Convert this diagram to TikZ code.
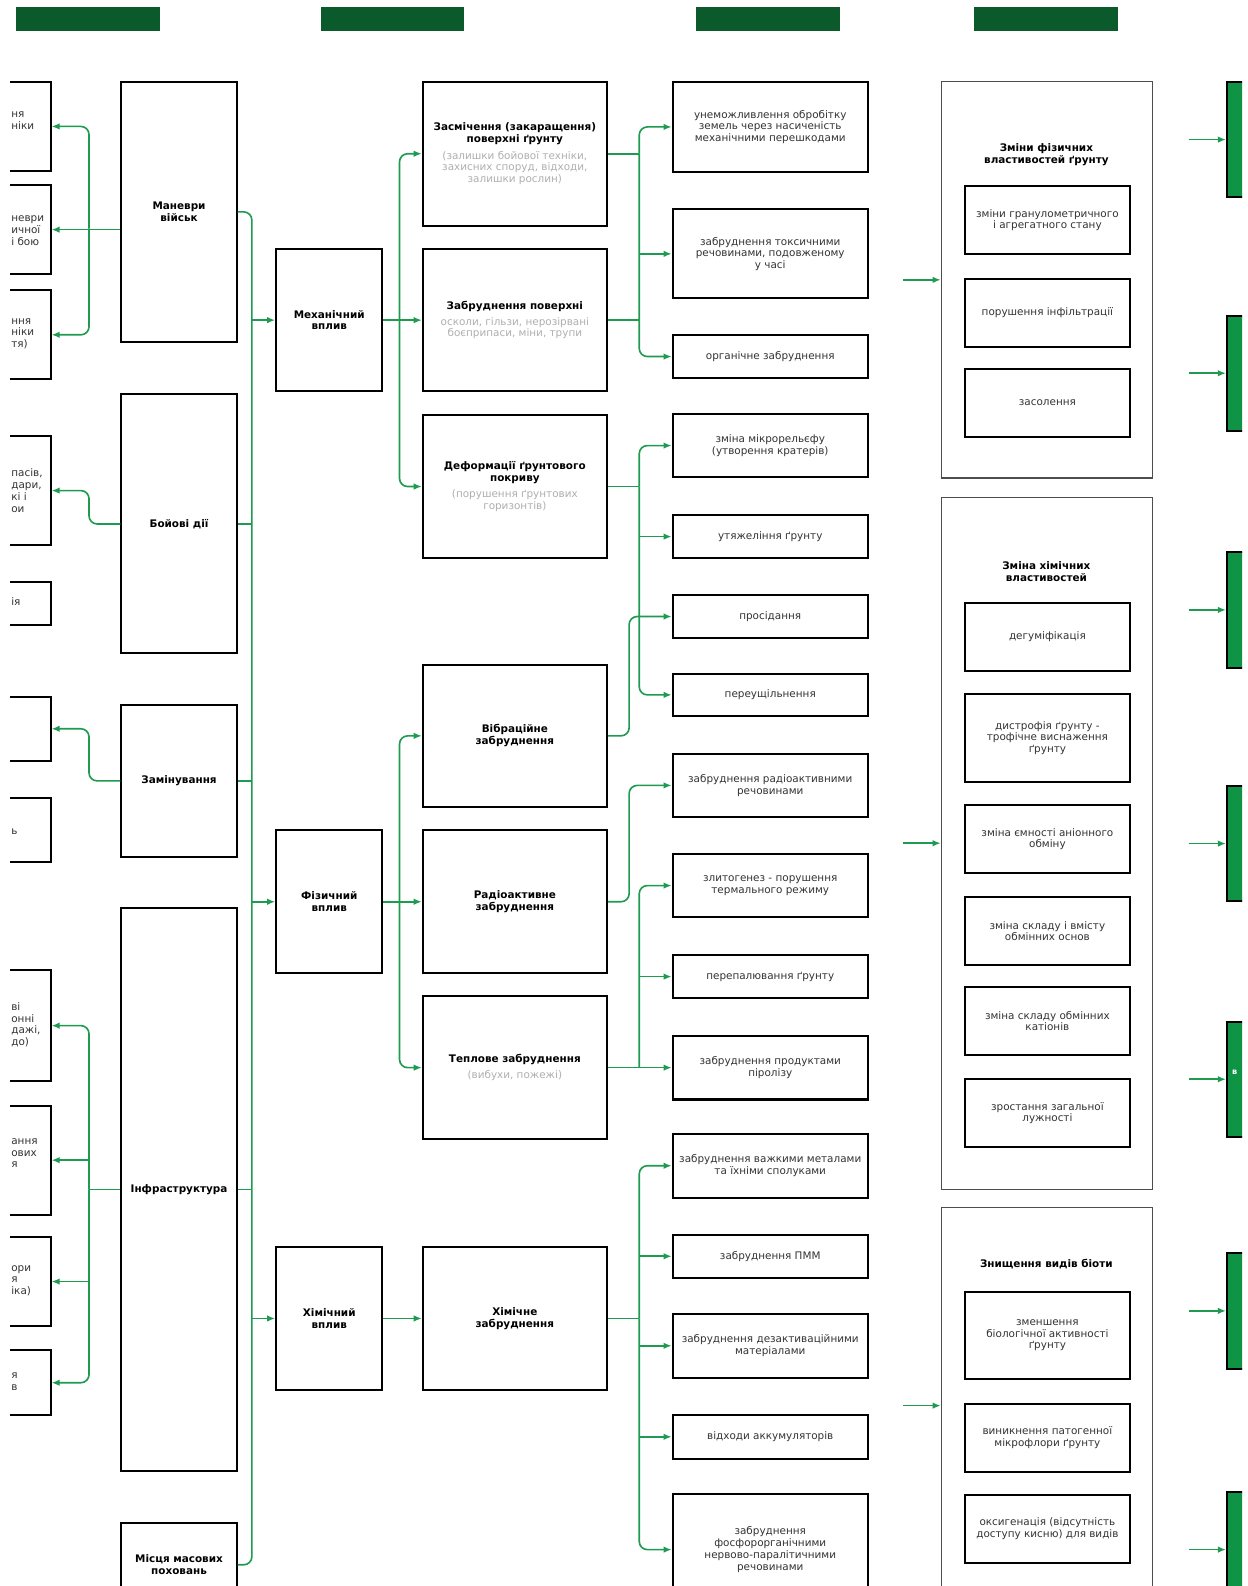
\documentclass[tikz,border=0pt]{standalone}
\usepackage{fontspec}
\setmainfont{DejaVu Sans}
\usepackage{xcolor}
\usepackage{tikz}
\usetikzlibrary{arrows.meta,positioning}
\definecolor{headgreen}{HTML}{0B5A2C}
\definecolor{linkgreen}{HTML}{1E9B50}
\definecolor{sidegreen}{HTML}{0E9444}
\definecolor{notegray}{HTML}{AFAFAF}
\definecolor{itemgray}{HTML}{333333}
\definecolor{framegray}{HTML}{4D4D4D}
\newcommand{\hd}[1]{\textbf{#1}}
\newcommand{\nt}[1]{\textcolor{notegray}{#1}}

\begin{document}
\begin{tikzpicture}[x=1pt,y=-1pt,>=Latex,
  box/.style={draw=black,line width=2pt,fill=white,anchor=north west,align=center,inner sep=2pt,font=\fontsize{10.3}{11.6}\selectfont},
  itembox/.style={box,text=itemgray},
  grpbox/.style={draw=framegray,line width=1.3pt,anchor=north west,minimum width=209pt},
  cutbox/.style={box,anchor=north east,minimum width=120pt},
  frag/.style={anchor=west,align=left,inner sep=0pt,text=itemgray,font=\fontsize{10.3}{11.6}\selectfont},
  bar/.style={fill=headgreen,anchor=north west,minimum width=142pt,minimum height=23pt,inner sep=0pt},
  sidebox/.style={draw=black,line width=2pt,fill=sidegreen,anchor=north west,minimum width=40pt,minimum height=114pt},
  link/.style={draw=linkgreen,line width=1.6pt,rounded corners=8pt},
  arr/.style={link,-{Latex[length=8pt,width=6.5pt]}}]
  \useasboundingbox (0,0) rectangle (1233,1568);
  \fill[white] (0,0) rectangle (1233,1568);
  \begin{scope}
  \clip (10,0) rectangle (1228,1568);

  \foreach \x [count=\i] in {16,317,688,963}
    \node[bar] (bar\i) at (\x,7) {};

  % cut boxes on the left
  \foreach \nm/\y/\h in {l1/80/88,l2/182/88,l3/286/88,l4/430/108,l5/574/43,l6/688/63,
                         l7/788/63,l8/958/110,l9/1092/108,l10/1222/88,l11/1334/64}
    \node[cutbox,minimum height=\h pt] (\nm) at (51,\y) {};
  \foreach \nm/\y/\txt in {f1/119/{ня\\ніки},f2/228/{неври\\ичної\\і бою},f3/330/{ння\\ніки\\тя)},
                           f4/485/{пасів,\\дари,\\кі і\\ои},f5/595/{ія},f7/822/{ь},
                           f8/1013/{ві\\онні\\дажі,\\до)},f9/1140/{ання\\ових\\я},
                           f10/1266/{ори\\я\\іка)},f11/1366/{я\\в}}
    \node[frag] (\nm) at (11,\y) {\txt};

  % sources
  \node[box,minimum width=114pt,minimum height=257pt] (manevry) at (119,80) {\hd{Маневри}\\\hd{військ}};
  \node[box,minimum width=114pt,minimum height=256pt] (boiovi) at (119,389) {\hd{Бойові дії}};
  \node[box,minimum width=114pt,minimum height=150pt] (zaminuv) at (119,696) {\hd{Замінування}};
  \node[box,minimum width=114pt,minimum height=556pt] (infra) at (119,897) {\hd{Інфраструктура}};
  \node[box,minimum width=114pt,minimum height=82pt] (mistsia) at (119,1505) {\hd{Місця масових}\\\hd{поховань}};

  % kinds of impact
  \node[box,minimum width=105pt,minimum height=141pt] (mech) at (272,245) {\hd{Механічний}\\\hd{вплив}};
  \node[box,minimum width=105pt,minimum height=141pt] (fiz) at (272,820) {\hd{Фізичний}\\\hd{вплив}};
  \node[box,minimum width=105pt,minimum height=141pt] (khim) at (272,1232) {\hd{Хімічний}\\\hd{вплив}};

  \node[box,minimum width=182pt,minimum height=142pt] (zasm) at (417,80)
    {\hd{Засмічення (закаращення)}\\\hd{поверхні ґрунту}\\[5pt]\nt{(залишки бойової техніки,}\\\nt{захисних споруд, відходи,}\\\nt{залишки рослин)}};
  \node[box,minimum width=182pt,minimum height=141pt] (zabrpov) at (417,245)
    {\hd{Забруднення поверхні}\\[4pt]\nt{осколи, гільзи, нерозірвані}\\\nt{боєприпаси, міни, трупи}};
  \node[box,minimum width=182pt,minimum height=142pt] (deform) at (417,409)
    {\hd{Деформації ґрунтового}\\\hd{покриву}\\[4pt]\nt{(порушення ґрунтових}\\\nt{горизонтів)}};
  \node[box,minimum width=182pt,minimum height=141pt] (vibr) at (417,656) {\hd{Вібраційне}\\\hd{забруднення}};
  \node[box,minimum width=182pt,minimum height=141pt] (radio) at (417,820) {\hd{Радіоактивне}\\\hd{забруднення}};
  \node[box,minimum width=182pt,minimum height=141pt] (tepl) at (417,984) {\hd{Теплове забруднення}\\[4pt]\nt{(вибухи, пожежі)}};
  \node[box,minimum width=182pt,minimum height=141pt] (khimz) at (417,1232) {\hd{Хімічне}\\\hd{забруднення}};

  % consequences
  \foreach \nm/\y/\h/\txt in {
      e1/80/89/{унеможливлення обробітку\\земель через насиченість\\механічними перешкодами},
      e2/206/88/{забруднення токсичними\\речовинами, подовженому\\у часі},
      e3/330/43/{органічне забруднення},
      e4/408/63/{зміна мікрорельєфу\\(утворення кратерів)},
      e5/508/43/{утяжеління ґрунту},
      e6/587/43/{просідання},
      e7/665/42/{переущільнення},
      e8/744/63/{забруднення радіоактивними\\речовинами},
      e9/843/63/{злитогенез - порушення\\термального режиму},
      e10/943/43/{перепалювання ґрунту},
      e11/1023/63/{забруднення продуктами\\піролізу},
      e12/1120/63/{забруднення важкими металами\\та їхніми сполуками},
      e13/1220/42/{забруднення ПММ},
      e14/1298/63/{забруднення дезактиваційними\\матеріалами},
      e15/1398/43/{відходи аккумуляторів},
      e16/1476/110/{забруднення\\фосфорорганічними\\нервово-паралітичними\\речовинами}}
    \node[itembox,minimum width=193pt,minimum height=\h pt] (\nm) at (664,\y) {\txt};

  % soil changes
  \node[grpbox,minimum height=392pt] (g1) at (930,80) {};
  \node[grpbox,minimum height=684pt] (g2) at (930,491) {};
  \node[grpbox,minimum height=392pt] (g3) at (930,1193) {};
  \node[align=center,font=\fontsize{10.3}{11.6}\selectfont] (ttl1) at (1034.5,153) {\hd{Зміни фізичних}\\\hd{властивостей ґрунту}};
  \node[align=center,font=\fontsize{10.3}{11.6}\selectfont] (ttl2) at (1034.5,565) {\hd{Зміна хімічних}\\\hd{властивостей}};
  \node[align=center,font=\fontsize{10.3}{11.6}\selectfont] (ttl3) at (1034.5,1250) {\hd{Знищення видів біоти}};
  \foreach \nm/\y/\h/\txt in {
      p1/183/67/{зміни гранулометричного\\і агрегатного стану},
      p2/275/67/{порушення інфільтрації},
      p3/364/67/{засолення},
      c1/595/67/{дегуміфікація},
      c2/685/87/{дистрофія ґрунту -\\трофічне виснаження\\ґрунту},
      c3/795/67/{зміна ємності аніонного\\обміну},
      c4/886/67/{зміна складу і вмісту\\обмінних основ},
      c5/975/67/{зміна складу обмінних\\катіонів},
      c6/1066/67/{зростання загальної\\лужності},
      b1/1276/86/{зменшення\\біологічної активності\\ґрунту},
      b2/1387/67/{виникнення патогенної\\мікрофлори ґрунту},
      b3/1477/67/{оксигенація (відсутність\\доступу кисню) для видів}}
    \node[itembox,minimum width=163pt,minimum height=\h pt] (\nm) at (953,\y) {\txt};

  % green boxes on the right
  \foreach \y [count=\i] in {80,311,545,776,1009,1238,1474}{
    \node[sidebox] (r\i) at (1212,\y) {};
    \coordinate (o\i) at ([xshift=-37pt]r\i.west);
    \draw[arr] (o\i) -- (r\i.west);
  }
  \node[text=white,font=\fontsize{8}{9}\selectfont\bfseries,anchor=west,inner sep=0pt] (rtxt) at (1218,1060) {в};

  \coordinate (in1) at ([xshift=-37pt]g1.west);
  \coordinate (in2) at ([xshift=-37pt]g2.west);
  \coordinate (in3) at ([xshift=-37pt]g3.west);
  \draw[arr] (in1) -- (g1.west);
  \draw[arr] (in2) -- (g2.west);
  \draw[arr] (in3) -- (g3.west);

  % left branches
  \coordinate (j1) at (88,226);
  \draw[arr] (manevry.west |- l2.east) -- (l2.east);
  \draw[arr] (j1) |- (l1.east);
  \draw[arr] (j1) |- (l3.east);
  \draw[arr] (boiovi.west) -- (boiovi.west -| j1) |- (l4.east);
  \draw[arr] (zaminuv.west) -- (zaminuv.west -| j1) |- (l6.east);
  \draw[link] (infra.west) -- (infra.west -| j1);
  \draw[arr] (infra.west -| j1) |- (l8.east);
  \draw[arr] (infra.west -| j1) |- (l11.east);
  \draw[arr] (j1 |- l9.east) -- (l9.east);
  \draw[arr] (j1 |- l10.east) -- (l10.east);

  % main bus
  \coordinate (bus) at (249,0);
  \draw[link] (manevry.east) -- (manevry.east -| bus) -- (mistsia.east -| bus) -- (mistsia.east);
  \draw[link] (boiovi.east) -- (boiovi.east -| bus);
  \draw[link] (zaminuv.east) -- (zaminuv.east -| bus);
  \draw[link] (infra.east) -- (infra.east -| bus);
  \draw[arr] (mech.west -| bus) -- (mech.west);
  \draw[arr] (fiz.west -| bus) -- (fiz.west);
  \draw[arr] (khim.west -| bus) -- (khim.west);

  \coordinate (bus2) at (395,0);
  \draw[arr] (mech.east) -- (zabrpov.west);
  \draw[arr] (mech.east -| bus2) |- (zasm.west);
  \draw[arr] (mech.east -| bus2) |- (deform.west);
  \draw[arr] (fiz.east) -- (radio.west);
  \draw[arr] (fiz.east -| bus2) |- (vibr.west);
  \draw[arr] (fiz.east -| bus2) |- (tepl.west);
  \draw[arr] (khim.east) -- (khimz.west);

  \coordinate (bus3) at (632,0);
  \coordinate (bus4) at (622,0);
  \draw[link] (zasm.east) -- (zasm.east -| bus3);
  \draw[link] (zabrpov.east) -- (zabrpov.east -| bus3);
  \draw[arr] (zasm.east -| bus3) |- (e1.west);
  \draw[arr] (zasm.east -| bus3) |- (e3.west);
  \draw[arr] (e2.west -| bus3) -- (e2.west);
  \draw[link] (deform.east) -- (deform.east -| bus3);
  \draw[arr] (deform.east -| bus3) |- (e4.west);
  \draw[arr] (deform.east -| bus3) |- (e7.west);
  \draw[arr] (e5.west -| bus3) -- (e5.west);
  \draw[arr] (vibr.east) -- (vibr.east -| bus4) |- (e6.west);
  \draw[arr] (radio.east) -- (radio.east -| bus4) |- (e8.west);
  \draw[arr] (tepl.east) -- (e11.west);
  \draw[arr] (tepl.east -| bus3) |- (e9.west);
  \draw[arr] (e10.west -| bus3) -- (e10.west);
  \draw[link] (khimz.east) -- (khimz.east -| bus3);
  \draw[arr] (khimz.east -| bus3) |- (e12.west);
  \draw[arr] (khimz.east -| bus3) |- (e16.west);
  \draw[arr] (e13.west -| bus3) -- (e13.west);
  \draw[arr] (e14.west -| bus3) -- (e14.west);
  \draw[arr] (e15.west -| bus3) -- (e15.west);
  \end{scope}
\end{tikzpicture}
\end{document}
